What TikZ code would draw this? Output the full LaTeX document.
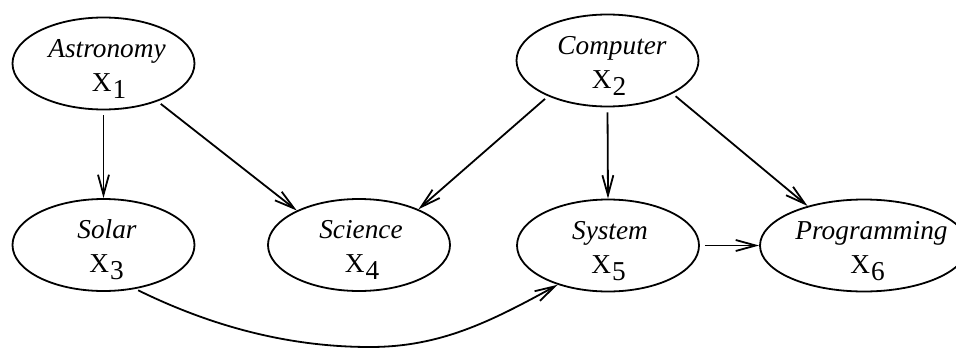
\documentclass[tikz,border=0pt]{standalone}
\usepackage{fontspec}
\setmainfont{Liberation Serif}
\newfontfamily\labelfont{Liberation Serif}
\usetikzlibrary{shapes.geometric,arrows.meta}

\tikzset{
  varbox/.style={draw, ellipse, line width=1.8pt, inner sep=0pt,
              minimum width=182pt, minimum height=92pt},
  widebox/.style={varbox, minimum width=208pt},
  wordlabel/.style={anchor=base, inner sep=0pt,
               font=\labelfont\fontsize{27.3}{30}\selectfont\itshape},
  symlabel/.style={anchor=base, inner sep=0pt,
              font=\labelfont\fontsize{27.3}{30}\selectfont},
  link/.style={line width=1.8pt,
               -{Straight Barb[length=20pt,width=11pt]}},
  gap/.style={shorten <=5pt}
}
\newcommand{\varsym}[1]{X\kern1pt\raisebox{-7pt}{#1}}

\begin{document}
\begin{tikzpicture}[x=1pt,y=-1pt]
  \clip (0,0) rectangle (956,348);
  \useasboundingbox (0,0) rectangle (956,348);

  % variables
  \node[varbox] (a1) at (103.5,63.5) {};
  \node[varbox] (a2) at (607.5,60.5) {};
  \node[varbox] (a3) at (103.5,245) {};
  \node[varbox] (a4) at (359,245) {};
  \node[varbox] (a5) at (608,245.5) {};
  \node[widebox] (a6) at (864,245.5) {};

  % labels: word above, symbol below
  \node[wordlabel] (t1) at (107,57) {Astronomy};
  \node[symlabel]  (s1) at (109,91) {\varsym{1}};
  \node[wordlabel] (t2) at (612,54) {Computer};
  \node[symlabel]  (s2) at (609,88.5) {\varsym{2}};
  \node[wordlabel] (t3) at (107,238.5) {Solar};
  \node[symlabel]  (s3) at (106.5,272.5) {\varsym{3}};
  \node[wordlabel] (t4) at (361,238.5) {Science};
  \node[symlabel]  (s4) at (362,272.5) {\varsym{4}};
  \node[wordlabel] (t5) at (610,239) {System};
  \node[symlabel]  (s5) at (608.5,273) {\varsym{5}};
  \node[wordlabel] (t6) at (871.5,239) {Programming};
  \node[symlabel]  (s6) at (867.5,273) {\varsym{6}};

  % dependencies
  \draw[link,gap] (a1.-90) -- (a3.90);
  \draw[link,gap,shorten <=4pt] (a1.-35) -- (a4.151.6);
  \draw[link,gap,shorten <=4pt] (a2.211) -- (a4.31);
  \draw[link,gap] (a2.-90) -- (a5.90);
  \draw[link,gap,shorten <=4pt] (a2.-27.4) -- (a6.145.7);
  \draw[link,gap] (a5.0) -- (a6.180);
  \draw[link,shorten <=3pt] (a3.-54)
      .. controls (215,328) and (292,347) .. (370,347)
      .. controls (440,347) and (490,322) .. (a5.-142);
\end{tikzpicture}
\end{document}
